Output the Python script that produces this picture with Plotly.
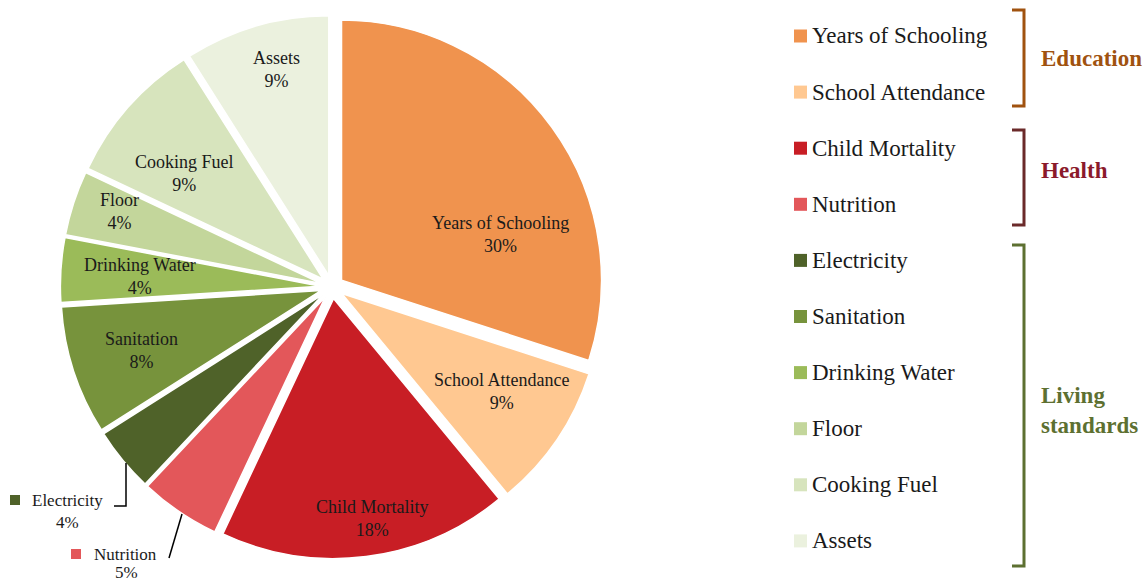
import plotly.graph_objects as go

# ---- data ----
categories = ["Years of Schooling", "School Attendance", "Child Mortality", "Nutrition",
              "Electricity", "Sanitation", "Drinking Water", "Floor", "Cooking Fuel", "Assets"]
values = [30, 9, 18, 5, 4, 8, 4, 4, 9, 9]
colors = ["#F0934E", "#FFC891", "#C81E25", "#E3575A", "#4F6229",
          "#77933C", "#9BBB59", "#C3D69B", "#D7E4BD", "#EBF1DE"]
groups = ["Education", "Health", "Living<br>standards"]
group_colors = ["#A0520F", "#8B1A2B", "#5D7031"]
bracket_colors = ["#A0520F", "#6B2A2A", "#5D7031"]

W, H = 1147, 581
FONT = "'Liberation Serif', 'Times New Roman', serif"

def px(x):
    return x / W

def py(y):
    return 1 - y / H

fig = go.Figure()
fig.add_trace(go.Pie(
    labels=categories, values=values, sort=False, direction="clockwise", rotation=0,
    marker=dict(colors=colors, line=dict(color="white", width=1.5)),
    pull=[0.045] * len(values), textinfo="none", hoverinfo="label+percent",
    showlegend=False,
    domain=dict(x=[0.0526, 0.5264], y=[0.0384, 0.9737]),
))

annotations = []
shapes = []

# in-slice labels (pixel label anchors)
label_pos = {
    "Years of Schooling": (500, 234), "School Attendance": (501, 391),
    "Child Mortality": (372, 518), "Sanitation": (141, 350),
    "Drinking Water": (140, 276), "Floor": (120, 211),
    "Cooking Fuel": (184, 173), "Assets": (276, 70),
}
total = sum(values)
for c, v in zip(categories, values):
    if c in label_pos:
        x, y = label_pos[c]
        annotations.append(dict(x=px(x), y=py(y), xref="paper", yref="paper",
                                text=f"{c}<br>{round(100*v/total)}%", showarrow=False,
                                font=dict(family=FONT, size=18, color="#1a1a1a"),
                                xanchor="center", yanchor="middle"))

# outside labels for small slices (Electricity, Nutrition)
outside = {"Electricity": (67, 67, 500, 522), "Nutrition": (125, 126, 554, 572)}
for c, (xt, xc, ytxt, ypct) in outside.items():
    i = categories.index(c)
    annotations.append(dict(x=px(xt), y=py(ytxt), xref="paper", yref="paper",
                            text=c, showarrow=False, xanchor="center", yanchor="middle",
                            font=dict(family=FONT, size=17, color="#1a1a1a")))
    annotations.append(dict(x=px(xc), y=py(ypct), xref="paper", yref="paper",
                            text=f"{round(100*values[i]/total)}%", showarrow=False,
                            xanchor="center", yanchor="middle",
                            font=dict(family=FONT, size=17, color="#1a1a1a")))
# square markers for outside labels
for c, (sx, sy) in {"Electricity": (15, 500), "Nutrition": (76, 554)}.items():
    i = categories.index(c)
    shapes.append(dict(type="rect", xref="paper", yref="paper",
                       x0=px(sx - 5), x1=px(sx + 5), y0=py(sy + 5), y1=py(sy - 5),
                       fillcolor=colors[i], line=dict(width=0)))
# leader lines
shapes.append(dict(type="path", xref="paper", yref="paper",
                   path=f"M {px(126)} {py(463)} L {px(126)} {py(506)} L {px(114)} {py(506)}",
                   line=dict(color="black", width=1.5)))
shapes.append(dict(type="line", xref="paper", yref="paper",
                   x0=px(182), y0=py(514), x1=px(169), y1=py(558),
                   line=dict(color="black", width=1.5)))

# custom legend
LEG_Y0, LEG_DY = 36, 56.1
for i, c in enumerate(categories):
    y = LEG_Y0 + LEG_DY * i
    shapes.append(dict(type="rect", xref="paper", yref="paper",
                       x0=px(794), x1=px(807), y0=py(y + 6.5), y1=py(y - 6.5),
                       fillcolor=colors[i], line=dict(width=0)))
    annotations.append(dict(x=px(810), y=py(y), xref="paper", yref="paper", text=c,
                            showarrow=False, xanchor="left", yanchor="middle",
                            font=dict(family=FONT, size=23, color="#1a1a1a")))

# group brackets and labels
bracket_spans = [(10, 106), (130, 225), (245, 566)]
group_label_y = [58, 170, 410]
for g, (y0, y1), col, bcol, ly in zip(groups, bracket_spans, group_colors, bracket_colors, group_label_y):
    shapes.append(dict(type="path", xref="paper", yref="paper",
                       path=f"M {px(1012)} {py(y0)} L {px(1024)} {py(y0)} L {px(1024)} {py(y1)} L {px(1012)} {py(y1)}",
                       line=dict(color=bcol, width=3)))
    annotations.append(dict(x=px(1039), y=py(ly), xref="paper", yref="paper", text=f"<b>{g}</b>",
                            showarrow=False, xanchor="left", yanchor="middle", align="left",
                            font=dict(family=FONT, size=23, color=col)))

fig.update_layout(width=W, height=H, margin=dict(l=0, r=0, t=0, b=0),
                  paper_bgcolor="white", plot_bgcolor="white",
                  annotations=annotations, shapes=shapes)
fig.write_html("out.html", config={"displayModeBar": False},
               post_script="document.body.style.margin='0';")
